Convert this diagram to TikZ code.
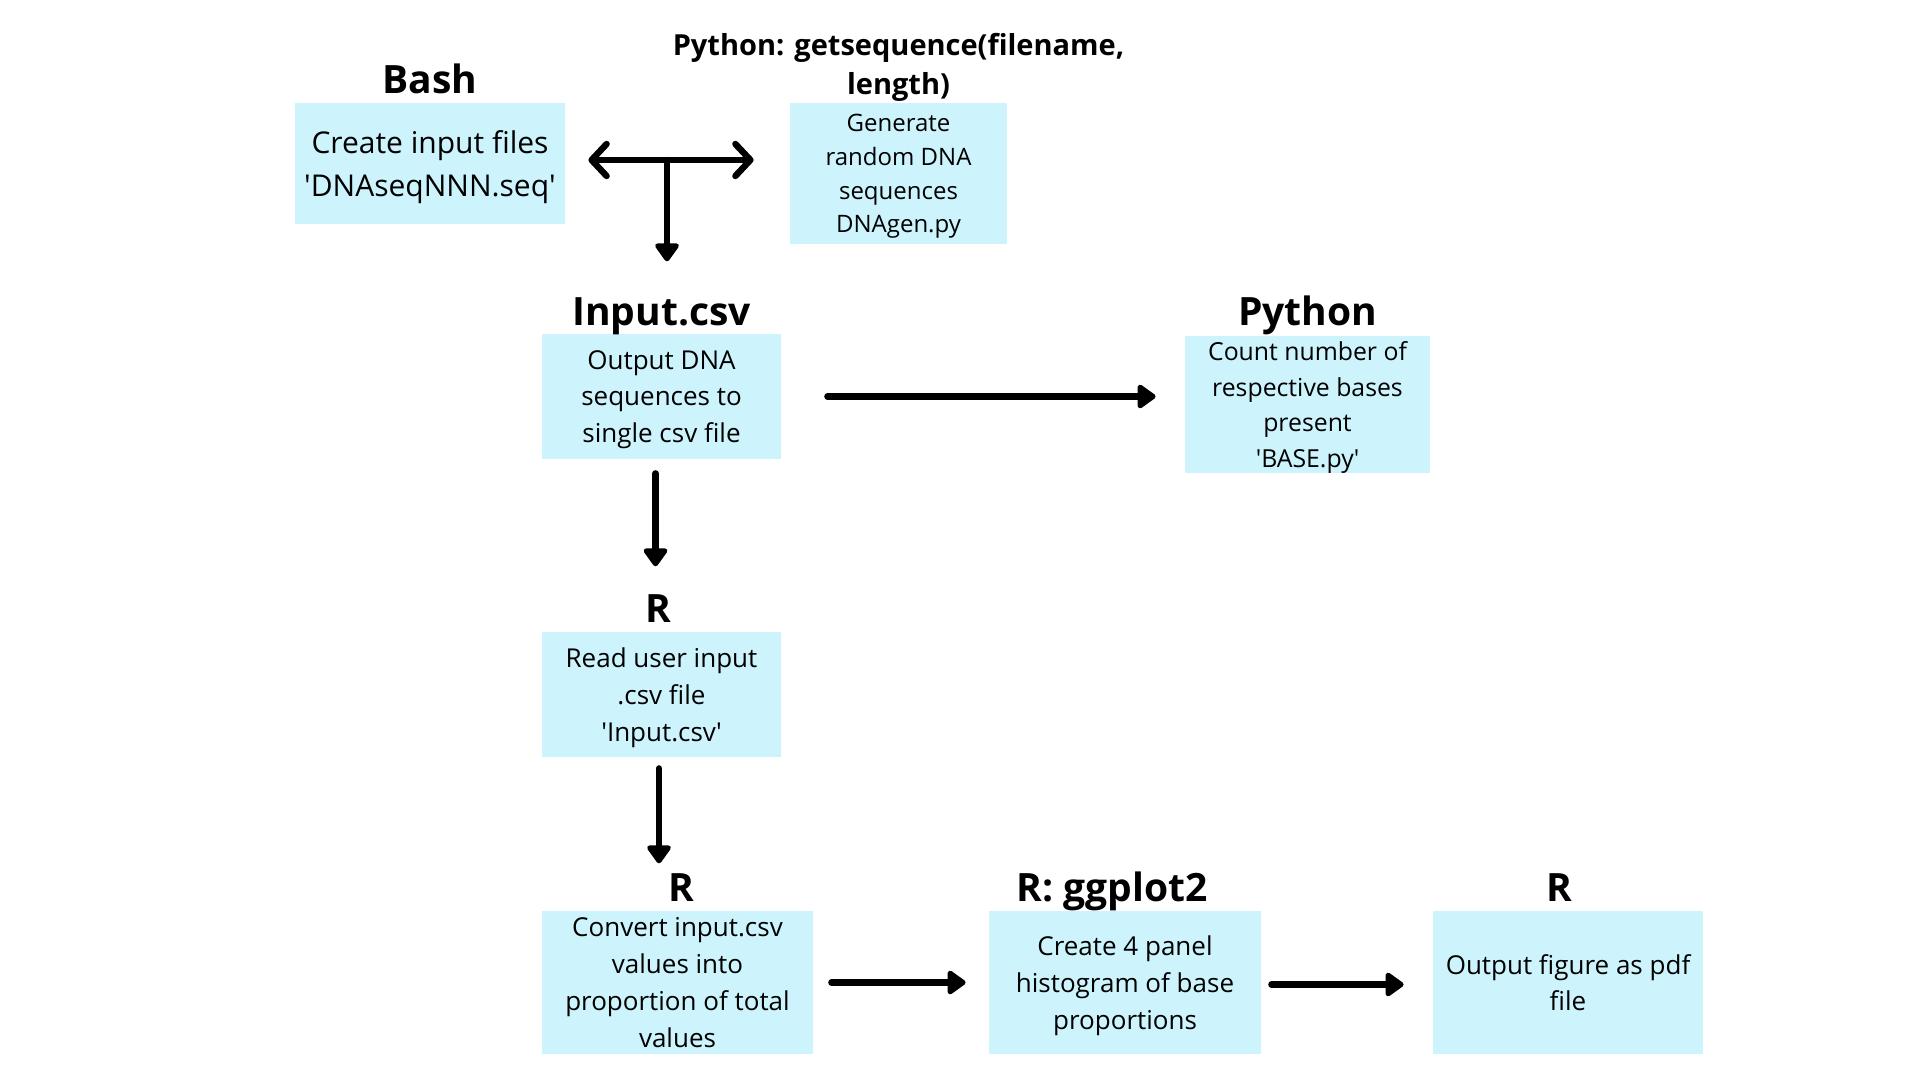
\documentclass[tikz,border=0pt]{standalone}
\usepackage{fontspec}
\setmainfont{Open Sans}
\usetikzlibrary{arrows.meta,positioning}
\definecolor{stepcyan}{RGB}{205,244,252}

\begin{document}
\begin{tikzpicture}[
  x=0.5pt, y=-0.5pt,
  box/.style={fill=stepcyan, align=center, inner sep=0pt, text depth=0pt,
              font=\fontsize{13}{18.4}\selectfont},
  ttl/.style={font=\bfseries\fontsize{19.5}{22}\selectfont, inner sep=0pt},
  arr/.style={-{Triangle[length=10pt,width=13.5pt,round]}, line width=3.2pt, line cap=round},
  dbl/.style={{Straight Barb[length=7.5pt,width=16pt,round]}-{Straight Barb[length=7.5pt,width=16pt,round]},
              line width=3.2pt, line cap=round}
]
\useasboundingbox (0,0) rectangle (1920,1080);
% top row
\node[box, minimum width=135pt, minimum height=60.5pt, font=\fontsize{15}{21.4}\selectfont] (bash) at (430,163.5)
  {Create input files\\\textquotesingle DNAseqNNN.seq\textquotesingle};
\node[box, minimum width=108.5pt, minimum height=70.5pt, font=\fontsize{12}{16.9}\selectfont] (gen) at (898.5,173.5)
  {Generate\\random DNA\\sequences\\DNAgen.py};
% middle
\node[box, minimum width=119.5pt, minimum height=62.5pt] (csv) at (661.5,396.5)
  {Output DNA\\sequences to\\single csv file};
\node[box, minimum width=122.5pt, minimum height=68.5pt, font=\fontsize{12.4}{17.8}\selectfont] (base) at (1307.5,404.5)
  {Count number of\\respective bases\\present\\\textquotesingle BASE.py\textquotesingle};
\node[box, minimum width=119.5pt, minimum height=62.5pt] (read) at (661.5,694.5)
  {Read user input\\.csv file\\\textquotesingle Input.csv\textquotesingle};
% bottom row
\node[box, minimum width=135.5pt, minimum height=71.5pt] (conv) at (677.5,982.5)
  {Convert input.csv\\values into\\proportion of total\\values};
\node[box, minimum width=136pt, minimum height=71.5pt] (plot) at (1125,982.5)
  {Create 4 panel\\histogram of base\\proportions};
\node[box, minimum width=135pt, minimum height=71.5pt] (pdf) at (1568,982.5)
  {Output figure as pdf\\file};
% titles
\node[ttl, above=4.75pt of bash, anchor=base] (bashT) {Bash};
\node[ttl, above=0.5pt of gen, align=center, font=\bfseries\fontsize{14.5}{19.5}\selectfont] (genT)
  {Python: getsequence(filename,\\length)};
\node[ttl, above=4pt of csv, anchor=base] (csvT) {Input.csv};
\node[ttl, above=5pt of base, anchor=base] (baseT) {Python};
\node[ttl, above=4.5pt of read, anchor=base, xshift=-1.5pt] (readT) {R};
\node[ttl, above=4.5pt of conv, anchor=base, xshift=1.75pt] (convT) {R};
\node[ttl, above=4.5pt of plot, anchor=base, xshift=-6.5pt] (plotT) {R: ggplot2};
\node[ttl, above=4.5pt of pdf, anchor=base, xshift=-4.5pt] (pdfT) {R};
% arrows
\coordinate (fork) at (667,160);
\draw[dbl, shorten <=11.5pt, shorten >=18pt] (bash.east |- fork) -- (gen.west |- fork);
\draw[arr, shorten >=18pt] (fork) -- (fork |- csvT.north);
\draw[arr, shorten <=23pt, shorten >=14.5pt] (csv.east) -- (csv.east -| base.west);
\draw[arr, shorten <=7pt, shorten >=14pt] ([xshift=-3pt]csv.south) -- ([xshift=-3pt]csv.south |- readT.north);
\draw[arr, shorten <=5.5pt, shorten >=5pt] ([xshift=-1.25pt]read.south) -- ([xshift=-1.25pt]read.south |- convT.north);
\draw[arr, shorten <=9pt, shorten >=11.5pt] (conv.east) -- (plot.west);
\draw[arr, shorten <=5pt, shorten >=14.5pt] ([yshift=-1pt]plot.east) -- ([yshift=-1pt]pdf.west);
\end{tikzpicture}
\end{document}
